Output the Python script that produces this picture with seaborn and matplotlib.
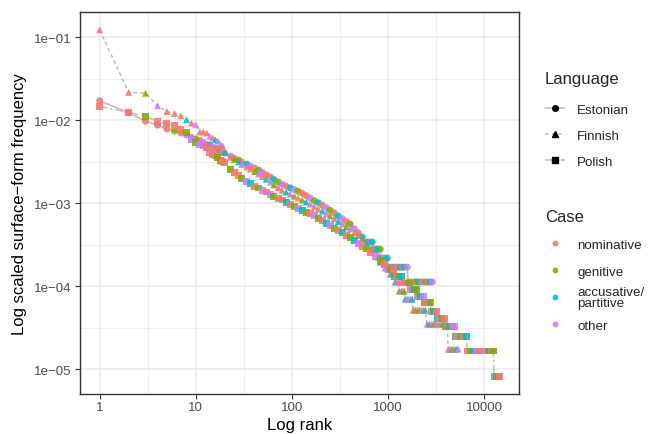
import matplotlib
matplotlib.use("Agg")
import matplotlib.pyplot as plt
from matplotlib.lines import Line2D
from matplotlib.legend_handler import HandlerLine2D
from matplotlib.ticker import FixedLocator, FixedFormatter, NullFormatter
import numpy as np
import pandas as pd
import seaborn as sns

# ---------------- data ----------------
languages = ["Estonian", "Finnish", "Polish"]
case_codes = {"n": "nominative", "g": "genitive",
              "a": "accusative/\npartitive", "o": "other"}
case_order = ["nominative", "genitive", "accusative/\npartitive", "other"]
case_colors = ["#F8766D", "#7CAE00", "#00BFC4", "#C77CFF"]

x_tick_values = [1, 10, 100, 1000, 10000]
x_tick_labels = ["1", "10", "100", "1000", "10000"]
y_tick_values = [1e-5, 1e-4, 1e-3, 1e-2, 1e-1]
y_tick_labels = ["1e\u221205", "1e\u221204", "1e\u221203", "1e\u221202", "1e\u221201"]

est_rank = [1, 2, 3, 4, 5, 6, 7, 8, 9, 10, 11, 12, 13, 14, 15, 16, 17, 18, 19, 20,
            23, 25, 28, 30, 34, 37, 41, 45, 49, 54, 60, 65, 72, 79, 87, 96, 106, 116,
            128, 141, 155, 171, 188, 207, 228, 250, 276, 303, 334, 367, 404, 445, 490, 539,
            593, 620, 650, 685,
            702, 736, 772, 830,
            850, 890, 935, 981,
            1005, 1054, 1106, 1160, 1220, 1280, 1340, 1405, 1474, 1584,
            1623, 1710, 1800, 1900, 2000, 2110, 2220, 2340, 2470, 2600, 2740, 2884]
est_freq = [0.0171, 0.0123, 0.0097, 0.0087, 0.0078, 0.0074, 0.0070, 0.0066, 0.0062, 0.0059,
            0.0057, 0.0054, 0.0051, 0.0050, 0.0047, 0.0046, 0.0045, 0.0042, 0.0041, 0.0040,
            0.00368, 0.00348, 0.00330, 0.00312, 0.00295, 0.00279, 0.00264, 0.00250, 0.00236,
            0.00220, 0.00206, 0.00192, 0.00180, 0.00169, 0.00160, 0.00152, 0.00145, 0.00139,
            0.00131, 0.00123, 0.00115, 0.00107, 0.00101, 0.00094, 0.00088, 0.00082, 0.00076,
            0.00070, 0.00065, 0.00060, 0.00056, 0.00049, 0.00044, 0.00039,
            0.000339, 0.000339, 0.000339, 0.000339,
            0.000279, 0.000279, 0.000279, 0.000279,
            0.000217, 0.000217, 0.000217, 0.000217,
            0.000169, 0.000169, 0.000169, 0.000169, 0.000169, 0.000169, 0.000169, 0.000169,
            0.000169, 0.000169,
            0.000112, 0.000112, 0.000112, 0.000112, 0.000112, 0.000112, 0.000112, 0.000112,
            0.000112, 0.000112, 0.000112, 0.000112]
est_case = ("nnnnngnongnonaonngon"
            "ongnaongonnagonaognnoganognaongona"
            "ngoanoagnonagongonanaognnoganognao")

fin_rank = [1, 2, 3, 4, 5, 6, 7, 8, 9, 10, 11, 12, 13, 14, 15, 16, 17, 18, 19, 20,
            23, 25, 28, 30, 34, 37, 41, 45, 49, 54, 60, 65, 72, 79, 87, 96, 106, 116,
            128, 141, 155, 171, 188, 207, 228, 250, 276, 303, 334, 367, 404, 445, 490, 539, 593,
            653, 685, 720, 754,
            772, 810,
            830, 870, 913,
            935, 981, 1029,
            1054, 1106, 1160,
            1188, 1230, 1277,
            1308, 1372, 1420, 1474,
            1510, 1584, 1650, 1720, 1786,
            1829, 1920, 2013, 2110, 2210, 2324, 2440,
            2558, 2700, 2850, 3000, 3170, 3340, 3520, 3720, 3920, 4130,
            4230, 4440, 4650, 4880, 5120, 5377]
fin_freq = [0.1225, 0.0216, 0.0211, 0.0149, 0.0127, 0.0120, 0.0113, 0.0101, 0.0092, 0.0088,
            0.0072, 0.0072, 0.0070, 0.0064, 0.0061, 0.0058, 0.0056, 0.0051, 0.0049, 0.0041,
            0.00358, 0.00335, 0.00314, 0.00292, 0.00273, 0.00257, 0.00240, 0.00225, 0.00209,
            0.00194, 0.00179, 0.00166, 0.00153, 0.00143, 0.00136, 0.00128, 0.00121, 0.00115,
            0.00109, 0.00103, 0.00097, 0.00091, 0.00085, 0.00080, 0.00075, 0.00070, 0.00065,
            0.00060, 0.00056, 0.00052, 0.00049, 0.00044, 0.00041, 0.00037, 0.00033,
            0.000279, 0.000279, 0.000279, 0.000279,
            0.000224, 0.000224,
            0.000195, 0.000195, 0.000195,
            0.000165, 0.000165, 0.000165,
            0.000140, 0.000140, 0.000140,
            0.000112, 0.000112, 0.000112,
            0.0000871, 0.0000871, 0.0000871, 0.0000871,
            0.0000697, 0.0000697, 0.0000697, 0.0000697, 0.0000697,
            0.0000514, 0.0000514, 0.0000514, 0.0000514, 0.0000514, 0.0000514, 0.0000514,
            0.0000348, 0.0000348, 0.0000348, 0.0000348, 0.0000348, 0.0000348, 0.0000348,
            0.0000348, 0.0000348, 0.0000348,
            0.0000174, 0.0000174, 0.0000174, 0.0000174, 0.0000174, 0.0000174]
fin_case = ("nngonnnanonnnonaoona"
            "ngaonngonaognnaogngaonnaognaogonnga"
            "ngoangaonnognanaongonganooangngonanaognonagonognao")

pol_rank = [1, 2, 3, 4, 5, 6, 7, 8, 9, 10, 11, 12, 13, 14, 15, 16, 17, 18, 19, 20,
            23, 25, 28, 30, 34, 37, 41, 45, 49, 54, 60, 65, 72, 79, 87, 96, 106, 116,
            128, 141, 155, 171, 188, 207, 228, 250, 276, 303, 334, 367, 404, 445, 490, 539, 593,
            653, 736, 830, 913,
            1005, 1060, 1133,
            1160, 1220, 1300, 1372,
            1405, 1480, 1560, 1662,
            1702, 1790, 1880, 1965,
            2013, 2160, 2324,
            2381, 2500, 2620, 2749,
            2815, 3000, 3175,
            3251, 3420, 3600, 3844,
            3937, 4150, 4400, 4640, 4886,
            5004, 5330, 5700, 6100, 6512,
            6670, 7168, 7702, 8277, 8892, 9555, 10265, 11030, 11570, 12000, 12435,
            12740, 13100, 13500, 13900, 14300]
pol_freq = [0.0146, 0.0124, 0.0111, 0.0096, 0.0090, 0.0085, 0.0078, 0.0070, 0.0059, 0.0054,
            0.0051, 0.0049, 0.0047, 0.0041, 0.0039, 0.0037, 0.0035, 0.0033, 0.0032, 0.0031,
            0.00257, 0.00236, 0.00217, 0.00200, 0.00184, 0.00172, 0.00160, 0.00152, 0.00143,
            0.00136, 0.00128, 0.00121, 0.00115, 0.00109, 0.00103, 0.00097, 0.00092, 0.00087,
            0.00082, 0.00078, 0.00074, 0.00070, 0.00066, 0.00062, 0.00057, 0.00054, 0.00050,
            0.00047, 0.00044, 0.00041, 0.00038, 0.00035, 0.00033, 0.00030, 0.00028,
            0.000257, 0.000230, 0.000206, 0.000184,
            0.000160, 0.000160, 0.000160,
            0.000132, 0.000132, 0.000132, 0.000132,
            0.000109, 0.000109, 0.000109, 0.000109,
            0.000092, 0.000092, 0.000092, 0.000092,
            0.0000758, 0.0000758, 0.0000758,
            0.0000642, 0.0000642, 0.0000642, 0.0000642,
            0.0000500, 0.0000500, 0.0000500,
            0.0000412, 0.0000412, 0.0000412, 0.0000412,
            0.0000330, 0.0000330, 0.0000330, 0.0000330, 0.0000330,
            0.0000250, 0.0000250, 0.0000250, 0.0000250, 0.0000250,
            0.0000165, 0.0000165, 0.0000165, 0.0000165, 0.0000165, 0.0000165, 0.0000165,
            0.0000165, 0.0000165, 0.0000165, 0.0000165,
            0.0000082, 0.0000082, 0.0000082, 0.0000082, 0.0000082]
pol_case = ("nngnnnngogoonnnnggnn"
            "gnngoangonognnangoagnognaognangaong"
            "nogn"
            "ognangaonngonagnaognognanaogngnanogognangaonnogangnoagn")

# ---------------- assemble ----------------
frames = []
for lang, rk, fq, cs in [("Estonian", est_rank, est_freq, est_case),
                         ("Finnish", fin_rank, fin_freq, fin_case),
                         ("Polish", pol_rank, pol_freq, pol_case)]:
    assert len(rk) == len(fq) == len(cs), (lang, len(rk), len(fq), len(cs))
    frames.append(pd.DataFrame({"language": lang, "rank": rk, "freq": fq,
                                "case": [case_codes[c] for c in cs]}))
df = pd.concat(frames, ignore_index=True)

# ---------------- style ----------------
sns.set_theme(style="white")
plt.rcParams["font.family"] = ["Liberation Sans", "DejaVu Sans"]

SMALL = 9.6
BIG = 12

fig, ax = plt.subplots(figsize=(6.48, 4.35), dpi=100)
fig.subplots_adjust(left=0.123, right=0.801, bottom=0.093, top=0.969)

line_gray = "#BDBDBD"
line_dashes = {"Estonian": "", "Finnish": (2.4, 2.0), "Polish": (5.0, 2.0, 1.5, 2.0)}
sns.lineplot(data=df, x="rank", y="freq", style="language", style_order=languages,
             dashes=line_dashes, color=line_gray, linewidth=1.1, estimator=None,
             legend=False, ax=ax, zorder=2)

marker_map = {"Estonian": "o", "Finnish": "^", "Polish": "s"}
sns.scatterplot(data=df, x="rank", y="freq", hue="case", hue_order=case_order,
                palette=case_colors, style="language", style_order=languages,
                markers=marker_map, s=25, linewidth=0, alpha=0.88, legend=False,
                ax=ax, zorder=3)

ax.set_xscale("log")
ax.set_yscale("log")
lx = np.log10(df["rank"])
ly = np.log10(df["freq"])
padx = 0.05 * (lx.max() - lx.min())
pady = 0.05 * (ly.max() - ly.min())
ax.set_xlim(10 ** (lx.min() - padx), 10 ** (lx.max() + padx))
ax.set_ylim(10 ** (ly.min() - pady), 10 ** (ly.max() + pady))

ax.xaxis.set_major_locator(FixedLocator(x_tick_values))
ax.xaxis.set_major_formatter(FixedFormatter(x_tick_labels))
ax.xaxis.set_minor_locator(FixedLocator([10 ** 0.5, 10 ** 1.5, 10 ** 2.5, 10 ** 3.5]))
ax.xaxis.set_minor_formatter(NullFormatter())
ax.yaxis.set_major_locator(FixedLocator(y_tick_values))
ax.yaxis.set_major_formatter(FixedFormatter(y_tick_labels))
ax.yaxis.set_minor_locator(FixedLocator([10 ** -1.5, 10 ** -2.5, 10 ** -3.5, 10 ** -4.5]))
ax.yaxis.set_minor_formatter(NullFormatter())

ax.grid(which="major", color="#EBEBEB", linewidth=1.1)
ax.grid(which="minor", color="#EBEBEB", linewidth=0.55)
ax.set_axisbelow(True)
ax.tick_params(which="major", bottom=True, left=True, length=3.5, width=0.8,
               color="#333333", labelsize=SMALL, labelcolor="#4D4D4D", pad=2.2)
ax.tick_params(which="minor", length=0)
for sp in ax.spines.values():
    sp.set_color("#333333")
    sp.set_linewidth(1.0)

ax.set_xlabel("Log rank", fontsize=BIG, color="black", labelpad=2.5)
ax.set_ylabel("Log scaled surface\u2212form frequency", fontsize=BIG, color="black",
              labelpad=5)


# ---------------- legends ----------------
class CenteredLineHandler(HandlerLine2D):
    """Line/marker key lowered so it sits level with the label text."""
    def create_artists(self, legend, orig_handle, xdescent, ydescent, width, height,
                       fontsize, trans):
        return super().create_artists(legend, orig_handle, xdescent, ydescent + 4.4,
                                      width, height, fontsize, trans)


lang_styles = ["-", (0, (2.4, 2.0)), (0, (5.0, 2.0, 1.5, 2.0))]
lang_handles = [Line2D([], [], color=line_gray, lw=1.1, linestyle=ls, marker=marker_map[l],
                       markersize=4.0, markerfacecolor="black", markeredgecolor="black")
                for l, ls in zip(languages, lang_styles)]
leg1 = ax.legend(lang_handles, languages, title="Language", loc="upper left",
                 bbox_to_anchor=(545 / 648, 1 - 72 / 435), bbox_transform=fig.transFigure,
                 frameon=False, fontsize=SMALL, title_fontsize=BIG, handlelength=1.5,
                 handleheight=2.24, handletextpad=0.9, labelspacing=0.25, borderpad=0,
                 borderaxespad=0, alignment="left",
                 handler_map={Line2D: CenteredLineHandler()})
leg1._legend_box.sep = 8.0
ax.add_artist(leg1)

case_handles = [Line2D([], [], linestyle="none", marker="o", markersize=4.2,
                       markerfacecolor=c, markeredgewidth=0, alpha=0.88)
                for c in case_colors]
leg2 = ax.legend(case_handles, case_order, title="Case", loc="upper left",
                 bbox_to_anchor=(545 / 648, 1 - 210 / 435), bbox_transform=fig.transFigure,
                 frameon=False, fontsize=SMALL, title_fontsize=BIG, handlelength=1.5,
                 handleheight=2.35, handletextpad=0.9, labelspacing=0.25, borderpad=0,
                 borderaxespad=0, alignment="left",
                 handler_map={Line2D: CenteredLineHandler()})
leg2._legend_box.sep = 5.6
for t in leg2.get_texts():
    t.set_linespacing(0.95)

fig.savefig("out.png", dpi=100)
